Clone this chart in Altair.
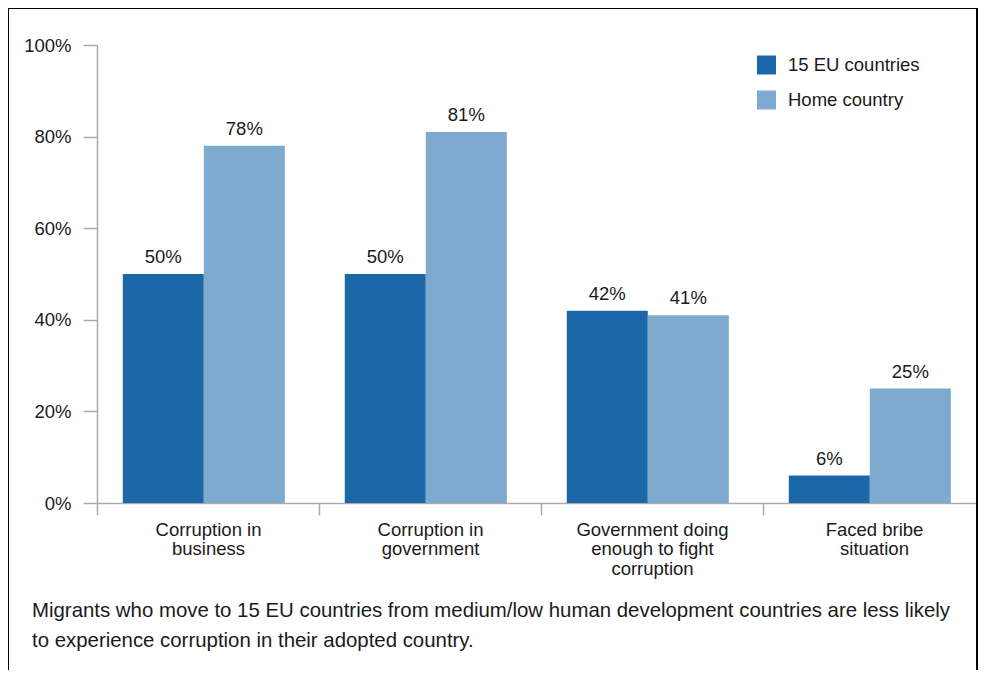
import altair as alt
import pandas as pd

categories = [
    "Corruption in\nbusiness",
    "Corruption in\ngovernment",
    "Government doing\nenough to fight\ncorruption",
    "Faced bribe\nsituation",
]
series = ["15 EU countries", "Home country"]
eu_values = [50, 50, 42, 6]
home_values = [78, 81, 41, 25]
y_ticks = [0, 20, 40, 60, 80, 100]
caption = [
    "Migrants who move to 15 EU countries from medium/low human development countries are less likely",
    "to experience corruption in their adopted country.",
]
colors = ["#1c67a8", "#7faacf"]

rows = []
for c, a, b in zip(categories, eu_values, home_values):
    rows.append({"category": c, "series": series[0], "value": a})
    rows.append({"category": c, "series": series[1], "value": b})
df = pd.DataFrame(rows)

FONT = "Liberation Sans"
TXT = "#1a1a1a"
AX = "#aaaaaa"
W, H = 888, 458
FS = 18.5

x = alt.X(
    "category:N",
    sort=categories,
    scale=alt.Scale(paddingInner=0, paddingOuter=0),
    axis=alt.Axis(
        title=None, labelAngle=0, labelExpr="split(datum.label, '\\n')",
        tickBand="extent", tickSize=12, labelPadding=5, labelFontSize=FS,
        labelLineHeight=19.5, labelBaseline="top", labelFont=FONT, labelColor=TXT,
        domainColor=AX, tickColor=AX, domainWidth=1.5, tickWidth=1.5,
    ),
)
xo = alt.XOffset(
    "series:N", sort=series,
    scale=alt.Scale(paddingInner=0, paddingOuter=0.37, align=0.43),
)
y = alt.Y(
    "value:Q",
    scale=alt.Scale(domain=[0, 100]),
    axis=alt.Axis(
        title=None, values=y_ticks, labelExpr="datum.value + '%'", grid=False,
        tickSize=14, labelPadding=12, labelFontSize=FS, labelFont=FONT,
        labelColor=TXT, domainColor=AX, tickColor=AX, domainWidth=1.5, tickWidth=1.5,
    ),
)
color = alt.Color(
    "series:N", sort=series,
    scale=alt.Scale(domain=series, range=colors),
    legend=alt.Legend(
        title=None, orient="none", legendX=660, legendY=10.5, symbolType="square",
        symbolSize=361, symbolStrokeWidth=0, symbolOpacity=1, labelFontSize=FS,
        labelFont=FONT, labelColor=TXT, labelOffset=12, rowPadding=16, padding=0,
    ),
)

frame = alt.Chart(pd.DataFrame({"f": [0]})).mark_rect(
    fillOpacity=0, stroke="#000000", strokeWidth=2
).encode(
    x=alt.value(-89), x2=alt.value(880), y=alt.value(-37), y2=alt.value(645)
)

bars = alt.Chart(df).mark_bar().encode(x=x, xOffset=xo, y=y, color=color)

labels = alt.Chart(df).transform_calculate(
    label="datum.value + '%'"
).mark_text(
    baseline="alphabetic", dy=-11, fontSize=FS, font=FONT, color=TXT
).encode(x=x, xOffset=xo, y=y, text="label:N")

chart = alt.layer(frame, bars, labels).properties(
    width=W, height=H,
    padding={"left": 89, "top": 37, "right": -7, "bottom": 167},
    autosize=alt.AutoSizeParams(type="none"),
    title=alt.TitleParams(
        text=caption, orient="bottom", anchor="start", frame="group",
        fontSize=20.4, fontWeight="normal", font=FONT, color=TXT,
        lineHeight=30, dx=-65, offset=-90, baseline="top",
    ),
).configure_view(stroke=None)

chart.save("out.html", embed_options={"renderer": "svg", "actions": False})
